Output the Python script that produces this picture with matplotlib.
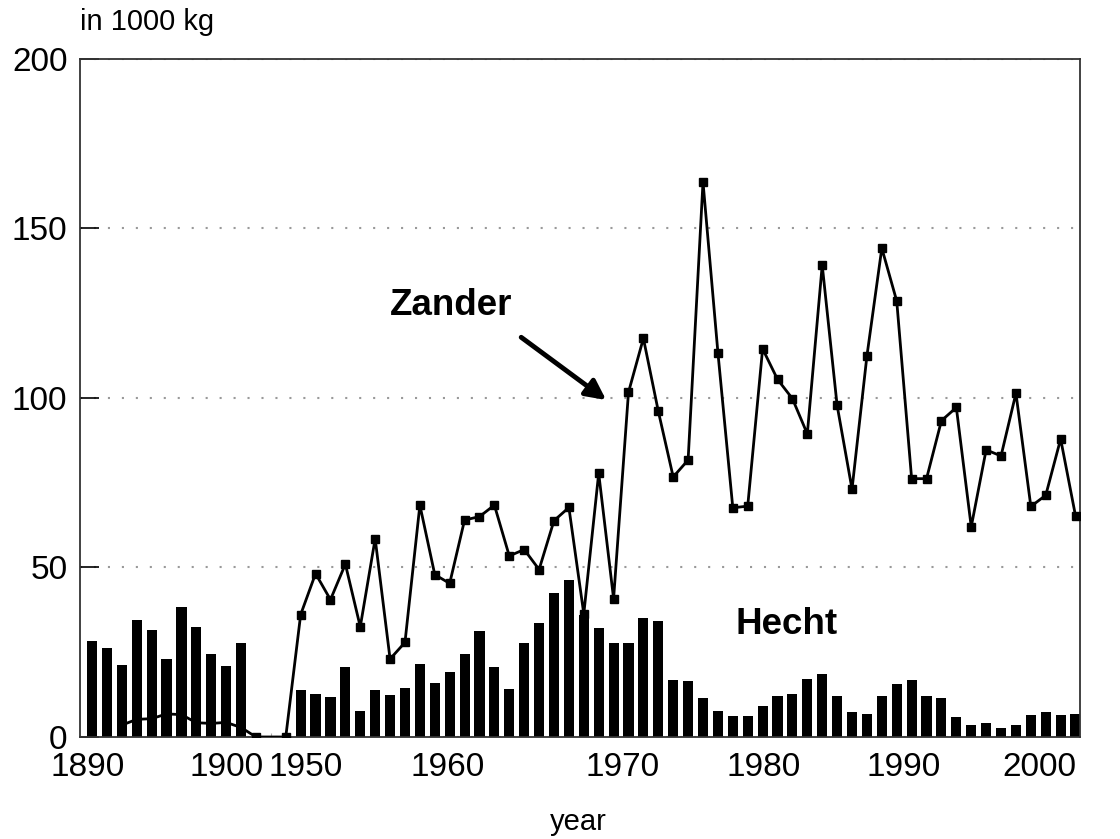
import numpy as np
import matplotlib
matplotlib.use('Agg')
import matplotlib.pyplot as plt

plt.rcParams['font.family'] = ['Liberation Sans', 'DejaVu Sans']

# Hecht (pike) catch, bars, in 1000 kg
hecht_early = [28.3, 26.3, 21.1, 34.6, 31.5, 23.0, 38.3, 32.3, 24.4, 20.9, 27.8]
hecht_late = [14.0, 12.8, 11.8, 20.6, 7.7, 13.8, 12.3, 14.5, 21.5, 15.9,
              19.1, 24.5, 31.4, 20.5, 14.1, 27.7, 33.7, 42.6, 46.3, 36.0,
              32.0, 27.8, 27.8, 35.2, 34.2, 16.9, 16.4, 11.5, 7.6, 6.1,
              6.1, 9.0, 12.0, 12.7, 17.2, 18.6, 12.0, 7.4, 6.9, 12.0,
              15.7, 16.9, 12.0, 11.5, 5.9, 3.6, 4.1, 2.6, 3.4, 6.4,
              7.5, 6.4, 6.7]

# Zander (pike-perch) catch, line, in 1000 kg
zander_early = [3.5, 5.2, 5.4, 6.8, 6.6, 4.2, 4.0, 4.3, 2.8]   # 1892-1900, no markers
zander_gap = [0, 0, 0]
zander_late = [36.1, 48.2, 40.5, 51.0, 32.5, 58.5, 23.0, 27.9, 68.4, 47.9,
               45.3, 64.0, 65.0, 68.4, 53.4, 55.3, 49.4, 63.8, 67.7, 36.3,
               77.8, 40.8, 101.7, 117.6, 96.1, 76.7, 81.7, 163.7, 113.4, 67.6,
               68.1, 114.5, 105.5, 99.8, 89.4, 139.2, 97.8, 73.1, 112.4, 144.2,
               128.6, 76.2, 76.2, 93.3, 97.2, 62.0, 84.7, 82.9, 101.4, 68.0,
               71.3, 87.9, 65.2]
gap_marks = [1.2, 1.2]

tick_labels = ['1890', '1900', '1950', '1960', '1970', '1980', '1990', '2000']
tick_pos = [-0.27, 9.06, 14.36, 23.83, 35.57, 45.1, 54.43, 63.56]

# slot positions: 11 early years, 3 gap slots, then the late series
x_early = np.arange(len(hecht_early))
x_gap = np.arange(len(zander_gap)) + len(hecht_early)
x_late = np.arange(len(hecht_late)) + len(hecht_early) + len(zander_gap)
x_zander_early = x_early[len(hecht_early) - len(zander_early):]

fig = plt.figure(figsize=(11.2, 8.39), dpi=100)
ax = fig.add_axes([0.0714, 0.1216, 0.8929, 0.8081])

ax.bar(x_early, hecht_early, width=0.68, color='black', zorder=2)
ax.bar(x_late, hecht_late, width=0.68, color='black', zorder=2)
ax.vlines(x_gap[:2], 0, gap_marks, color='#aaaaaa', lw=0.8, zorder=2)

zx = np.concatenate([x_zander_early, x_gap, x_late])
zy = np.concatenate([zander_early, zander_gap, zander_late])
marks = [i for i in range(len(zx)) if zx[i] >= x_gap[0] and zx[i] != x_gap[1]]
ax.plot(zx, zy, color='black', lw=2.0, marker='s', ms=5.8, markevery=marks, zorder=3)

ax.set_xlim(-0.81, 66.3)
ax.set_ylim(0, 200)
ax.set_yticks([0, 50, 100, 150, 200])
ax.set_xticks(tick_pos)
ax.set_xticklabels(tick_labels)
ax.tick_params(axis='x', length=0, pad=11, labelsize=24)
ax.tick_params(axis='y', direction='in', length=14, width=1.2, pad=9, labelsize=24)
ax.yaxis.grid(True, color='#999999', lw=1.5, linestyle=(0, (1, 5.7)))
ax.set_axisbelow(True)
for s in ax.spines.values():
    s.set_linewidth(1.3)
    s.set_color('#333333')

ax.text(24.1, 127.4, 'Zander', fontsize=26.5, fontweight='bold', ha='center', va='center')
ax.text(46.6, 33.3, 'Hecht', fontsize=26.5, fontweight='bold', ha='center', va='center')
ax.annotate('', xy=(34.5, 99.4), xytext=(28.8, 117.9),
            arrowprops=dict(arrowstyle='-|>', lw=3.5, color='black', mutation_scale=30,
                            shrinkA=0, shrinkB=0))

fig.text(80 / 1120, 1 - 22 / 839, 'in 1000 kg', fontsize=21, ha='left', va='center')
fig.text(578 / 1120, 1 - 822 / 839, 'year', fontsize=21, ha='center', va='center')

fig.savefig('out.png', dpi=100)
